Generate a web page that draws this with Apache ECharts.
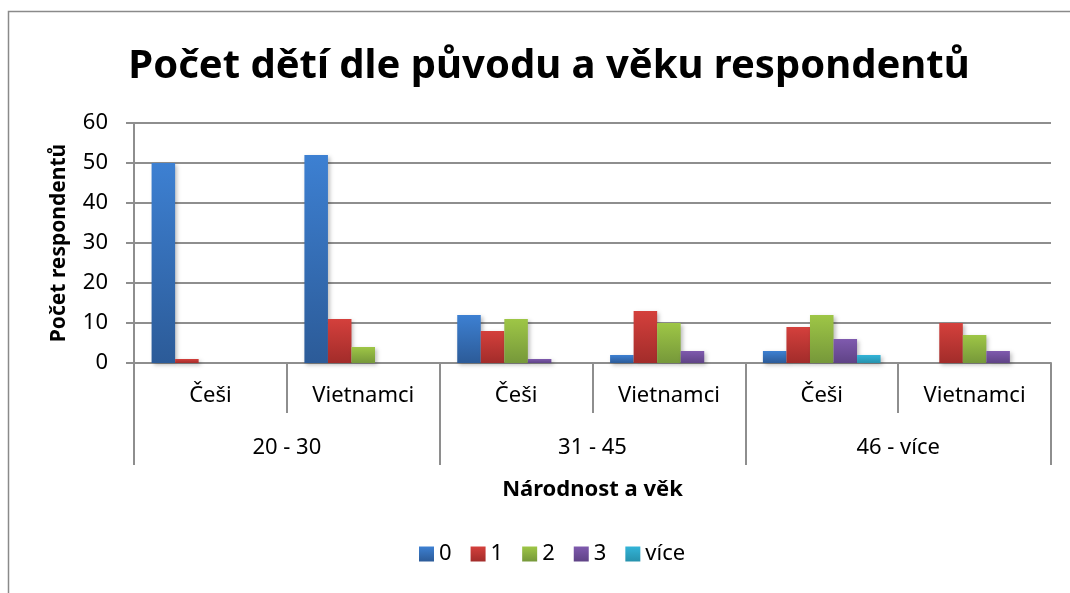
<!DOCTYPE html>
<html><head><meta charset="utf-8">
<script src="https://cdn.jsdelivr.net/npm/echarts@6/dist/echarts.min.js"></script>
<style>html,body{margin:0;padding:0;background:#fff}#c{width:1070px;height:593px}</style>
</head><body><div id="c"></div>
<script>
const nationalities = ['Češi','Vietnamci','Češi','Vietnamci','Češi','Vietnamci'];
const ageGroups = ['20 - 30','31 - 45','46 - více'];
const seriesNames = ['0','1','2','3','více'];
const s0 = [50, 52, 12, 2, 3, 0];
const s1 = [1, 11, 8, 13, 9, 10];
const s2 = [0, 4, 11, 10, 12, 7];
const s3 = [0, 0, 1, 3, 6, 3];
const sMore = [0, 0, 0, 0, 2, 0];
const yTicks = {min: 0, max: 60, interval: 10};

const allData = [s0, s1, s2, s3, sMore];
const colors = [['#3d80d2','#2c5b98'],['#d4403c','#a22c2a'],['#9ec646','#76983a'],['#7f5aae','#5f4386'],['#33b4d8','#2792ad']];
const font = '"Noto Sans", "DejaVu Sans", sans-serif';
const axisColor = '#8e8e8e';
const fs = 22;

const chart = echarts.init(document.getElementById('c'));
chart.setOption({
  animation: false,
  textStyle: {fontFamily: font},
  title: {
    text: 'Počet dětí dle původu a věku respondentů',
    left: 544, top: 42, textAlign: 'center',
    textStyle: {fontFamily: font, fontSize: 40, fontWeight: 'bold', color: '#000'}
  },
  graphic: [{type: 'rect', shape: {x: 8.5, y: 11.5, width: 1080, height: 600}, style: {fill: 'none', stroke: '#8a8a8a', lineWidth: 1.5}, silent: true}],
  legend: {
    bottom: 23, left: 414, itemWidth: 15, itemHeight: 15, itemGap: 19,
    icon: 'rect',
    textStyle: {fontFamily: font, fontSize: fs, color: '#000'},
    data: seriesNames
  },
  grid: {left: 134, right: 19, top: 123, bottom: 230, containLabel: false},
  xAxis: [{
    type: 'category', data: nationalities, position: 'bottom',
    axisLine: {show: true, lineStyle: {color: axisColor, width: 2}},
    axisTick: {show: true, length: 50, interval: 0, lineStyle: {color: axisColor, width: 2}},
    axisLabel: {interval: 0, margin: 22, fontSize: fs, color: '#000', fontFamily: font},
    splitLine: {show: false}
  }, {
    type: 'category', data: ageGroups, position: 'bottom', offset: 50,
    axisLine: {show: false},
    axisTick: {show: true, length: 52, interval: 0, lineStyle: {color: axisColor, width: 2}},
    axisLabel: {interval: 0, margin: 24, fontSize: fs, color: '#000', fontFamily: font},
    name: 'Národnost a věk', nameLocation: 'middle', nameGap: 66,
    nameTextStyle: {fontSize: fs, fontWeight: 'bold', color: '#000', fontFamily: font}
  }],
  yAxis: {
    type: 'value', min: yTicks.min, max: yTicks.max, interval: yTicks.interval,
    axisLine: {show: true, lineStyle: {color: axisColor, width: 2}},
    axisTick: {show: true, length: 8, lineStyle: {color: axisColor, width: 2}},
    axisLabel: {margin: 26, fontSize: fs, color: '#000', fontFamily: font},
    splitLine: {show: true, lineStyle: {color: axisColor, width: 2}},
    name: 'Počet respondentů', nameLocation: 'middle', nameGap: 64, nameRotate: 90,
    nameTextStyle: {fontSize: 21, fontWeight: 'bold', color: '#000', fontFamily: font}
  },
  series: seriesNames.map((n, i) => ({
    name: n, type: 'bar', xAxisIndex: 0, data: allData[i],
    barGap: '0%', barCategoryGap: '23%',
    itemStyle: {
      color: new echarts.graphic.LinearGradient(0, 0, 0, 1, [{offset: 0, color: colors[i][0]}, {offset: 1, color: colors[i][1]}]),
      shadowBlur: 4, shadowColor: 'rgba(0,0,0,0.25)', shadowOffsetX: 2, shadowOffsetY: 2
    }
  }))
});
</script></body></html>
